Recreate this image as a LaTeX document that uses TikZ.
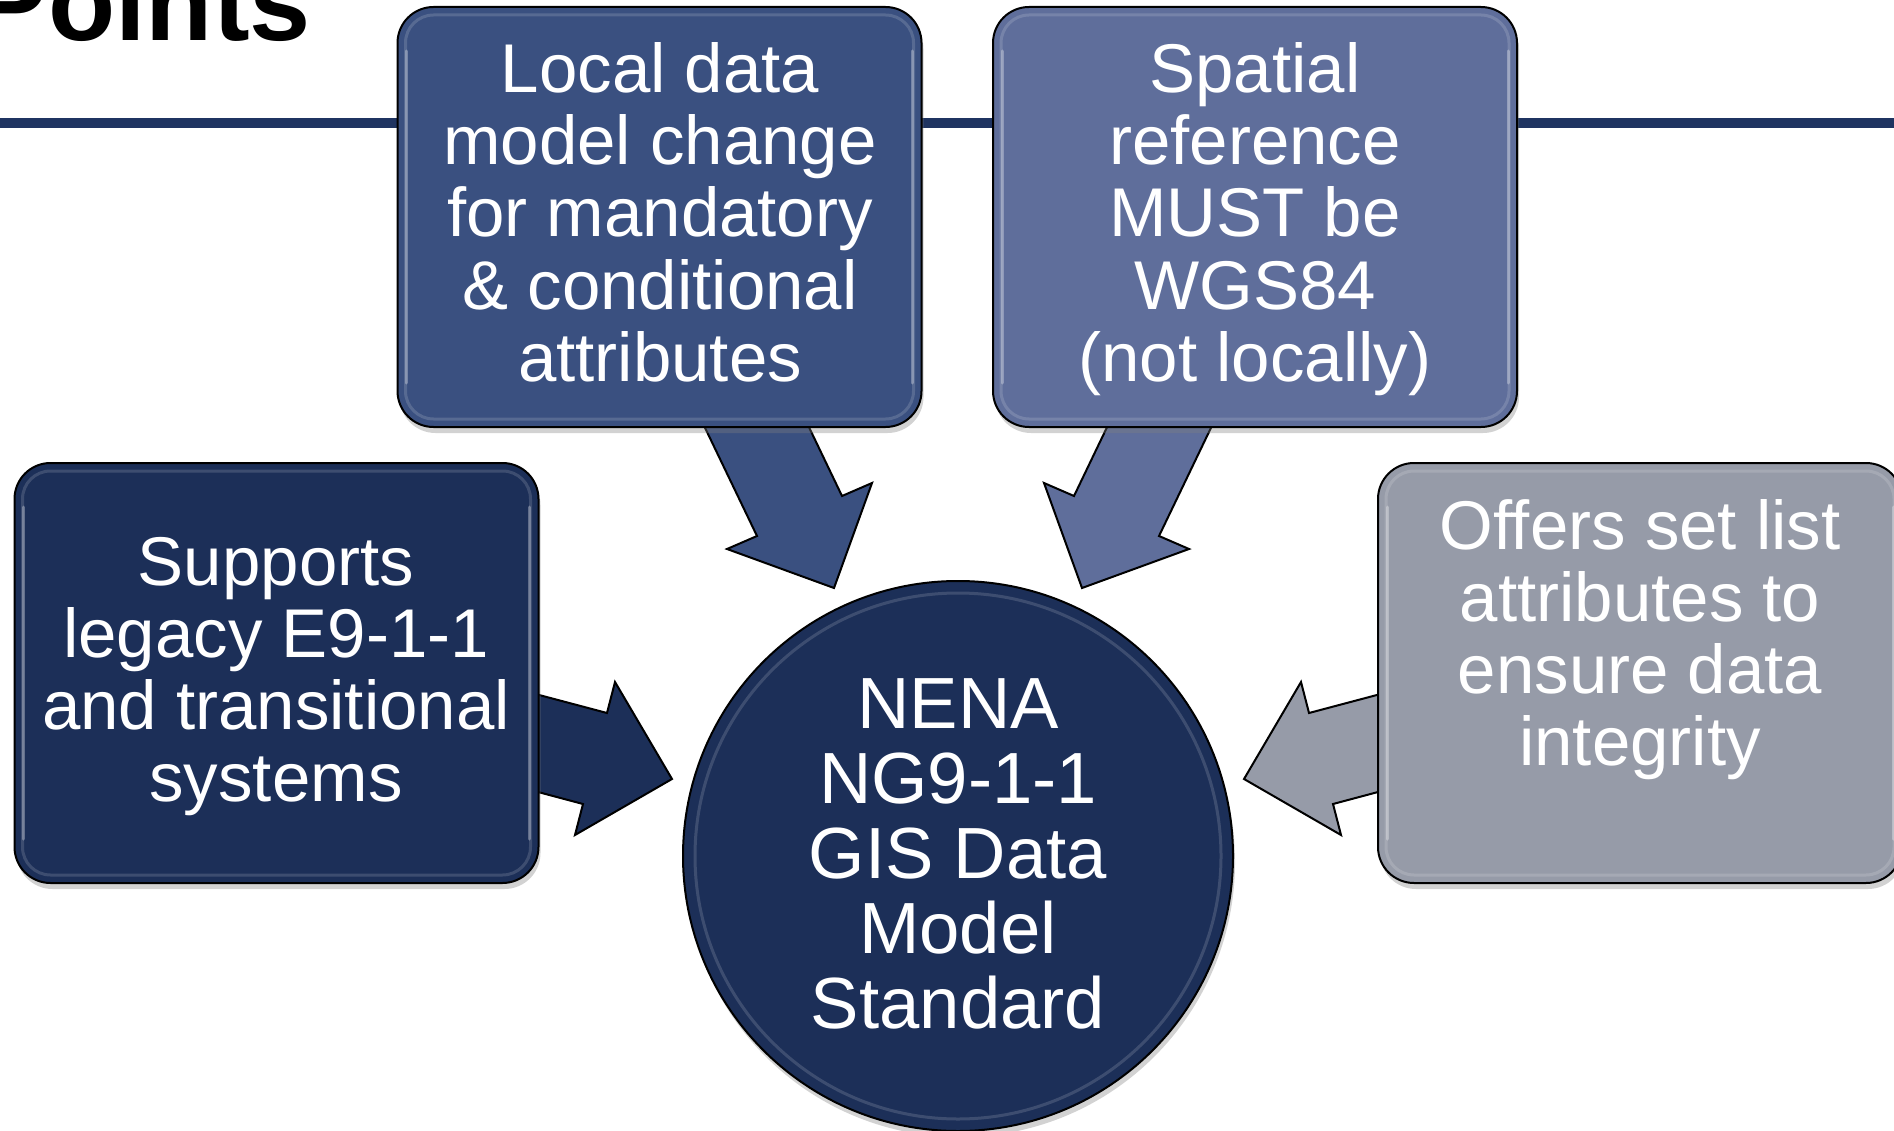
\documentclass[tikz,border=0pt]{standalone}
\usepackage{fontspec}
\setmainfont{Liberation Sans}
\usetikzlibrary{shadows}
\definecolor{navy}{HTML}{1C2F58}
\definecolor{midblue}{HTML}{3A5080}
\definecolor{slateblue}{HTML}{5F6E9B}
\definecolor{greybox}{HTML}{969BA8}
\definecolor{rulecol}{HTML}{1F3461}
\begin{document}
\begin{tikzpicture}[x=1pt,y=-1pt,
  box/.style={draw=black, line width=2pt, rounded corners=36pt, minimum width=524pt, minimum height=420pt, inner sep=0pt,
    drop shadow={opacity=0.35, shadow xshift=2pt, shadow yshift=-6pt}},
  boxtext/.style={text=white, align=center, inner sep=0pt, font=\fontsize{69}{72}\selectfont, anchor=base},
  blockarrow/.style={draw=black, line width=2pt, line join=miter},
  bevel/.style={draw=white, line width=3pt, opacity=0.15},
  sidelight/.style={draw=white, line width=3pt, opacity=0.3, line cap=round},
]
\useasboundingbox (0,0) rectangle (1894,1131);
\clip (0,0) rectangle (1894,1131);
\fill[white] (0,0) rectangle (1894,1131);
% rule
\coordinate (ruleL) at (0,123);
\coordinate (ruleR) at (1894,123);
\draw[rulecol, line width=10pt] (ruleL) -- (ruleR);
% title
\node[anchor=base east, inner sep=0pt, font=\fontsize{110}{110}\selectfont\bfseries] (title) at (311,41) {Points};

% arrows (drawn below boxes)
\draw[blockarrow, fill=midblue] (696.6,410.3) -- (757,536) -- (727,549) -- (834,588) -- (872,483) -- (842,496) -- (781.4,369.7) -- cycle;
\draw[blockarrow, fill=slateblue] (1219.4,410.3) -- (1159,536) -- (1189,549) -- (1082,588) -- (1044,483) -- (1074,496) -- (1134.6,369.7) -- cycle;
\draw[blockarrow, fill=navy] (510.5,687.4) -- (607,713) -- (615,682) -- (672,779) -- (575,835) -- (583,804) -- (486.3,778.2) -- cycle;
\draw[blockarrow, fill=greybox] (1405.5,687.4) -- (1309,713) -- (1301,682) -- (1244,779) -- (1341,835) -- (1333,804) -- (1429.7,778.2) -- cycle;

% boxes
\node[box, fill=midblue] (tl) at (659.5,217) {};
\node[box, fill=slateblue] (tr) at (1255,217) {};
\node[box, fill=navy] (lb) at (276.5,673) {};
\node[box, fill=greybox] (rb) at (1640,673) {};
\foreach \b in {tl,tr,lb,rb}{
  \draw[bevel, rounded corners=28pt] ([shift={(9,9)}]\b.north west) rectangle ([shift={(-9,-9)}]\b.south east);
  \draw[sidelight] ([shift={(10,45)}]\b.north west) -- ([shift={(10,-45)}]\b.south west);
  \draw[sidelight] ([shift={(-10,45)}]\b.north east) -- ([shift={(-10,-45)}]\b.south east);
}
% hub
\node[circle, fill=navy, draw=black, line width=2pt, minimum size=550pt, inner sep=0pt,
  drop shadow={opacity=0.35, shadow xshift=2pt, shadow yshift=-6pt}] (hub) at (958,856) {};
\draw[bevel] (hub.center) circle (263pt);

% texts (base anchor = last line's baseline)
\node[boxtext] (tlt) at (660,381) {Local data\\model change\\for mandatory\\\& conditional\\attributes};
\node[boxtext] (trt) at (1255,381) {Spatial\\reference\\MUST be\\WGS84\\(not locally)};
\node[boxtext] (lbt) at (276,801) {Supports\\legacy E9-1-1\\and transitional\\systems};
\node[boxtext] (rbt) at (1640,765) {Offers set list\\attributes to\\ensure data\\integrity};
\node[boxtext, font=\fontsize{72.5}{75}\selectfont] (hubt) at (958,1028) {NENA\\NG9-1-1\\GIS Data\\Model\\Standard};
\end{tikzpicture}
\end{document}
